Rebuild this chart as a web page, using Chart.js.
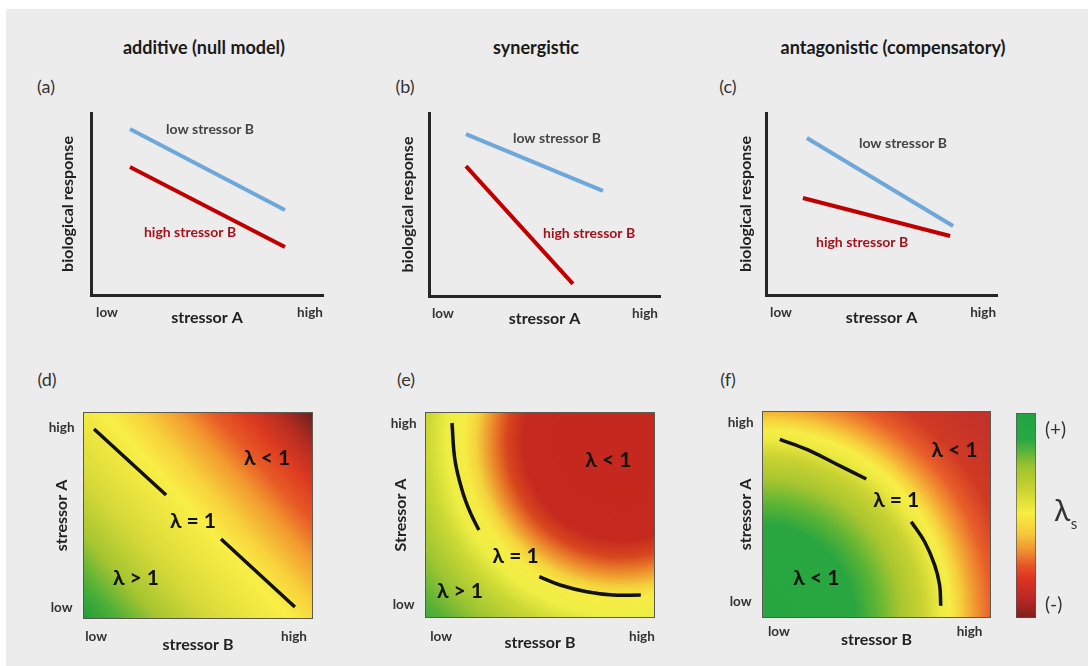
<!DOCTYPE html>
<html>
<head>
<meta charset="utf-8">
<script src="https://cdn.jsdelivr.net/npm/chart.js@4.4.1/dist/chart.umd.min.js"></script>
<style>
  html, body { margin: 0; padding: 0; background: #fff; }
  #fig { position: relative; width: 1088px; height: 666px; overflow: hidden; }
  #bg { position: absolute; left: 6px; top: 9px; right: 0; bottom: 0; background: #ececec; }
  #fig canvas { position: absolute; left: 0; top: 0; }
  .t { position: absolute; transform: translate(-50%, -50%); font-family: Lato, "Open Sans", sans-serif; white-space: nowrap; }
  .title { font-weight: bold; font-size: 18px; color: #1a1a1a; }
  .tag { font-size: 18px; color: #333; }
</style>
</head>
<body>
<div id="fig">
  <div id="bg"></div>
  <div class="t title" style="left:204px;top:47px">additive (null model)</div>
  <div class="t title" style="left:536px;top:47px">synergistic</div>
  <div class="t title" style="left:893px;top:47px">antagonistic (compensatory)</div>
  <div class="t tag" style="left:46px;top:86px">(a)</div>
  <div class="t tag" style="left:405px;top:86px">(b)</div>
  <div class="t tag" style="left:728px;top:86px">(c)</div>
  <div class="t tag" style="left:47px;top:379px">(d)</div>
  <div class="t tag" style="left:406px;top:379px">(e)</div>
  <div class="t tag" style="left:728px;top:379px">(f)</div>
</div>
<script>
// ---- data (axes run 0..10, low..high) ----
const tickLabels = ['low', 'high'];

// (a) additive
const aLowX = [1.68, 8.36];
const aLowY = [9.12, 4.67];
const aHighX = [1.68, 8.36];
const aHighY = [7.03, 2.64];
// (b) synergistic
const bLowX = [1.6, 7.53];
const bLowY = [8.85, 5.74];
const bHighX = [1.6, 6.23];
const bHighY = [7.10, 0.66];
// (c) antagonistic
const cLowX = [1.77, 8.1];
const cLowY = [8.63, 3.79];
const cHighX = [1.6, 7.97];
const cHighY = [5.33, 3.24];

// lambda = 1 isoclines
const dSeg1X = [0.44, 3.60];
const dSeg1Y = [9.22, 6.00];
const dSeg2X = [6.01, 9.25];
const dSeg2Y = [3.85, 0.54];
const eSeg1X = [1.14, 1.27, 1.58, 1.93, 2.32];
const eSeg1Y = [9.51, 7.70, 6.23, 5.15, 4.26];
const eSeg2X = [4.97, 5.88, 7.05, 8.21, 9.42];
const eSeg2Y = [1.98, 1.57, 1.24, 1.08, 1.08];
const fSeg1X = [0.74, 1.98, 3.16, 4.55];
const fSeg1Y = [8.67, 8.15, 7.50, 6.73];
const fSeg2X = [6.53, 7.12, 7.56, 7.78, 7.83];
const fSeg2Y = [4.65, 3.67, 2.54, 1.56, 0.55];

// colour fields (stop position -> colour)
const dStops = [0, 0.08, 0.18, 0.3, 0.42, 0.5, 0.58, 0.68, 0.76, 0.84, 0.92, 1];
const dColors = ['#1f9e3c', '#4caf38', '#a6c530', '#d4d838', '#eee640', '#f8ee46',
  '#f8d23c', '#f29a30', '#e85a26', '#dc3a20', '#b42c22', '#6a2020'];
const eStops = [0, 0.36, 0.42, 0.475, 0.53, 0.575, 0.636, 0.709, 0.818, 0.909, 1];
const eColors = ['#c4281e', '#c62a1e', '#d8461e', '#ec8a2c', '#f4d23c', '#f6ec44',
  '#eeee44', '#cad834', '#9cc432', '#5cb236', '#2ca23c'];
const fStops = [0, 0.3, 0.37, 0.45, 0.52, 0.58, 0.61, 0.645, 0.69, 0.745, 0.82, 1];
const fColors = ['#26a640', '#2aa640', '#5cb434', '#a8c630', '#c8d232', '#eeea40',
  '#f6ee48', '#f6d03c', '#f29a32', '#e85e2a', '#d03a24', '#c0302a'];
const colorbarStops = [0, 0.09, 0.185, 0.25, 0.33, 0.41, 0.51, 0.64, 0.74, 0.87, 1];
const colorbarColors = ['#7e1e1e', '#b82822', '#da3222', '#e85026', '#f09232', '#f6c83a',
  '#f6ee40', '#c4d030', '#9cc22e', '#28a844', '#22a444'];
const colorbarTicks = ['(-)', '(+)'];

// ---- layout (pixel boxes: left, top, right, bottom) ----
const W = 1088;
const H = 666;

function addCanvas() {
  const c = document.createElement('canvas');
  c.width = W;
  c.height = H;
  document.getElementById('fig').appendChild(c);
  return c;
}

function fixSize(size) {
  return (scale) => {
    if (scale.isHorizontal()) scale.height = size;
    else scale.width = size;
  };
}

function setTicks(values) {
  return (scale) => { scale.ticks = values.map((v) => ({ value: v })); };
}

function padFor(box, yW, xH) {
  return { left: box[0] - yW, top: box[1], right: W - box[2], bottom: H - box[3] - xH };
}

function toPoints(xs, ys) {
  return xs.map((v, i) => ({ x: v, y: ys[i] }));
}

function addStops(g, stops, colors) {
  stops.forEach((s, i) => g.addColorStop(s, colors[i]));
  return g;
}

function notesPlugin(notes) {
  return {
    id: 'notes',
    afterDatasetsDraw(chart) {
      const { ctx, scales: { x, y } } = chart;
      notes.forEach((n) => {
        ctx.save();
        ctx.font = n.font;
        ctx.fillStyle = n.color;
        ctx.textAlign = 'center';
        ctx.textBaseline = 'middle';
        ctx.fillText(n.text, x.getPixelForValue(n.x), y.getPixelForValue(n.y));
        ctx.restore();
      });
    },
  };
}

function heatPlugin(makeFill) {
  return {
    id: 'heat',
    beforeDatasetsDraw(chart) {
      const { ctx, chartArea: a } = chart;
      ctx.save();
      ctx.fillStyle = makeFill(chart);
      ctx.fillRect(a.left, a.top, a.width, a.height);
      ctx.strokeStyle = '#5a5a50';
      ctx.lineWidth = 1;
      ctx.strokeRect(a.left - 0.5, a.top - 0.5, a.width + 1, a.height + 1);
      ctx.restore();
    },
  };
}

function linearFill(from, to, stops, colors) {
  return (chart) => {
    const { x, y } = chart.scales;
    const g = chart.ctx.createLinearGradient(
      x.getPixelForValue(from[0]), y.getPixelForValue(from[1]),
      x.getPixelForValue(to[0]), y.getPixelForValue(to[1]));
    return addStops(g, stops, colors);
  };
}

function radialFill(center, radius, stops, colors) {
  return (chart) => {
    const { x, y } = chart.scales;
    const cx = x.getPixelForValue(center[0]);
    const cy = y.getPixelForValue(center[1]);
    const r = x.getPixelForValue(center[0] + radius) - cx;
    const g = chart.ctx.createRadialGradient(cx, cy, 0, cx, cy, r);
    return addStops(g, stops, colors);
  };
}

Chart.defaults.font.family = 'Lato, "Open Sans", sans-serif';
Chart.defaults.color = '#333';

const baseOptions = {
  responsive: false,
  animation: false,
  events: [],
  devicePixelRatio: 1,
};

const axisFont = { size: 13.5, weight: 'bold' };
const titleFont = { size: 16, weight: 'bold' };

/**
 * Top row: stressor A vs biological response, one line per stressor B level.
 */
function responsePanel(p) {
  const axisLine = { display: true, color: '#262626', width: 3 };
  const grid = { display: true, drawOnChartArea: false, drawTicks: false };
  new Chart(addCanvas(), {
    type: 'scatter',
    data: {
      datasets: [
        { data: toPoints(p.lowX, p.lowY), borderColor: '#6ea7da' },
        { data: toPoints(p.highX, p.highY), borderColor: '#c00000' },
      ].map((d) => ({ ...d, showLine: true, borderWidth: 4, pointRadius: 0, borderCapStyle: 'butt' })),
    },
    options: {
      ...baseOptions,
      layout: { padding: padFor(p.box, p.yW, p.xH) },
      plugins: { legend: { display: false }, tooltip: { enabled: false } },
      scales: {
        x: {
          type: 'linear', min: 0, max: 10,
          afterBuildTicks: setTicks(p.ticks),
          afterFit: fixSize(p.xH),
          grid, border: axisLine,
          ticks: { autoSkip: false, maxRotation: 0, padding: 10, font: axisFont, color: '#333',
            callback: (v, i) => tickLabels[i] },
          title: { display: true, text: 'stressor A', font: titleFont, color: '#222', padding: 0 },
        },
        y: {
          min: 0, max: 10,
          afterFit: fixSize(p.yW),
          grid, border: axisLine,
          ticks: { display: false },
          title: { display: true, text: 'biological response', font: titleFont, color: '#222', padding: 0 },
        },
      },
    },
    plugins: [notesPlugin([
      { text: 'low stressor B', x: p.lowNote[0], y: p.lowNote[1], color: '#454545', font: 'bold 14px Lato, sans-serif' },
      { text: 'high stressor B', x: p.highNote[0], y: p.highNote[1], color: '#a3121c', font: 'bold 14px Lato, sans-serif' },
    ])],
  });
}

/**
 * Bottom row: stressor B vs stressor A, coloured by the interaction strength.
 */
function lambdaPanel(p) {
  const lam = 'bold 21px Lato, sans-serif';
  // grid is hidden, so no tick marks are drawn
  const grid = { display: true, drawOnChartArea: false, drawTicks: false };
  new Chart(addCanvas(), {
    type: 'scatter',
    data: {
      datasets: p.segments.map((s) => ({
        data: toPoints(s[0], s[1]), showLine: true, borderColor: '#111', borderWidth: 3.5,
        pointRadius: 0, tension: 0.4, borderCapStyle: 'butt',
      })),
    },
    options: {
      ...baseOptions,
      layout: { padding: padFor(p.box, 44, p.xH) },
      plugins: { legend: { display: false }, tooltip: { enabled: false } },
      scales: {
        x: {
          type: 'linear', min: 0, max: 10,
          afterBuildTicks: setTicks(p.xTicks),
          afterFit: fixSize(p.xH),
          grid, border: { display: false },
          ticks: { autoSkip: false, maxRotation: 0, padding: p.xPad, font: axisFont, color: '#333',
            callback: (v, i) => tickLabels[i] },
          title: { display: true, text: 'stressor B', font: titleFont, color: '#222', padding: 0 },
        },
        y: {
          min: 0, max: 10,
          afterBuildTicks: setTicks(p.yTicks),
          afterFit: fixSize(44),
          grid, border: { display: false },
          ticks: { autoSkip: false, padding: 9.5, crossAlign: 'center', font: axisFont, color: '#333',
            callback: (v, i) => tickLabels[i] },
          title: { display: true, text: p.yTitle, font: titleFont, color: '#222',
            padding: { top: 44 - 9.6 - p.yGap, bottom: 0 } },
        },
      },
    },
    plugins: [
      heatPlugin(p.fill),
      notesPlugin(p.notes.map((n) => ({ text: n[0], x: n[1], y: n[2], color: '#111', font: lam }))),
    ],
  });
}

responsePanel({
  box: [91, 113, 323, 295], yW: 32.6, xH: 32, ticks: [0.69, 9.44],
  lowX: aLowX, lowY: aLowY, highX: aHighX, highY: aHighY,
  lowNote: [5.13, 9.12], highNote: [4.27, 3.41],
});
responsePanel({
  box: [429, 113, 660, 296], yW: 30.6, xH: 32, ticks: [0.6, 9.35],
  lowX: bLowX, lowY: bLowY, highX: bHighX, highY: bHighY,
  lowNote: [5.54, 8.63], highNote: [6.93, 3.39],
});
responsePanel({
  box: [766, 113, 997, 295], yW: 29.6, xH: 32, ticks: [0.65, 9.4],
  lowX: cLowX, lowY: cLowY, highX: cHighX, highY: cHighY,
  lowNote: [5.93, 8.35], highNote: [4.16, 2.91],
});

lambdaPanel({
  box: [84, 413, 312, 618], yGap: 22, xH: 36.6, xPad: 11, xTicks: [0.53, 9.21], yTicks: [0.49, 9.27],
  yTitle: 'stressor A',
  segments: [[dSeg1X, dSeg1Y], [dSeg2X, dSeg2Y]],
  fill: linearFill([0, 0], [10, 10], dStops, dColors),
  notes: [['λ < 1', 8.03, 7.80], ['λ = 1', 4.78, 4.73], ['λ > 1', 2.28, 1.95]],
});
lambdaPanel({
  box: [426, 413, 654, 617], yGap: 25, xH: 35.6, xPad: 12, xTicks: [0.66, 9.47], yTicks: [0.59, 9.46],
  yTitle: 'Stressor A',
  segments: [[eSeg1X, eSeg1Y], [eSeg2X, eSeg2Y]],
  fill: radialFill([8.6, 8.6], 12.06, eStops, eColors),
  notes: [['λ < 1', 8.0, 7.7], ['λ = 1', 3.93, 3.0], ['λ > 1', 1.49, 1.24]],
});
lambdaPanel({
  box: [763, 412, 990, 617], yGap: 17, xH: 32.6, xPad: 7, xTicks: [0.7, 9.1], yTicks: [0.73, 9.5],
  yTitle: 'stressor A',
  segments: [[fSeg1X, fSeg1Y], [fSeg2X, fSeg2Y]],
  fill: radialFill([0, 0], 13.5, fStops, fColors),
  notes: [['λ < 1', 8.44, 8.15], ['λ = 1', 5.87, 5.71], ['λ < 1', 2.35, 1.89]],
});

// colour bar
const lambdaLabel = {
  id: 'lambdaLabel',
  afterDraw(chart) {
    const { ctx, chartArea: a } = chart;
    const cy = (a.top + a.bottom) / 2;
    ctx.save();
    ctx.fillStyle = '#333';
    ctx.textBaseline = 'middle';
    ctx.textAlign = 'center';
    ctx.font = '30px Lato, sans-serif';
    ctx.fillText('λ', a.right + 26, cy - 4);
    ctx.font = '15px Lato, sans-serif';
    ctx.fillText('s', a.right + 38, cy + 9);
    ctx.restore();
  },
};

new Chart(addCanvas(), {
  type: 'bar',
  data: {
    labels: [''],
    datasets: [{
      data: [10],
      backgroundColor: (c) => {
        const a = c.chart.chartArea;
        if (!a) return colorbarColors[0];
        return addStops(c.chart.ctx.createLinearGradient(0, a.bottom, 0, a.top), colorbarStops, colorbarColors);
      },
      borderColor: '#555',
      borderWidth: 1,
      borderSkipped: false,
      categoryPercentage: 1,
      barPercentage: 1,
    }],
  },
  options: {
    ...baseOptions,
    layout: { padding: { left: 1016, top: 413, right: W - 1036 - 45, bottom: H - 618 } },
    plugins: { legend: { display: false }, tooltip: { enabled: false } },
    scales: {
      x: { display: false },
      y: {
        position: 'right', min: 0, max: 10,
        afterBuildTicks: setTicks([0.65, 9.2]),
        afterFit: fixSize(45),
        grid: { display: true, drawOnChartArea: false, drawTicks: false }, border: { display: false },
        ticks: { autoSkip: false, padding: 9, font: { size: 19 }, color: '#333',
          callback: (v, i) => colorbarTicks[i] },
      },
    },
  },
  plugins: [lambdaLabel],
});
</script>
</body>
</html>
